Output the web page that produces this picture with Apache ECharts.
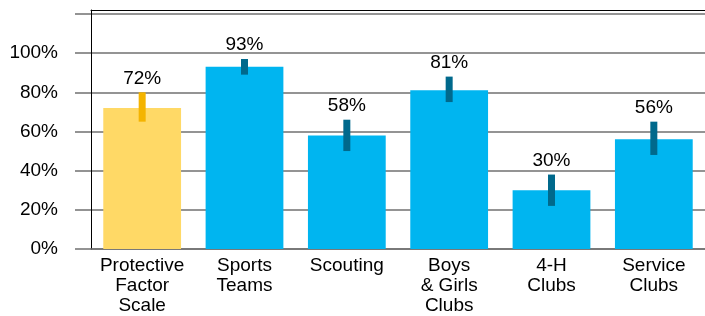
<!DOCTYPE html>
<html>
<head>
<meta charset="utf-8">
<script src="https://cdn.jsdelivr.net/npm/echarts@6/dist/echarts.min.js"></script>
<style>html,body{margin:0;padding:0;background:#fff}#c{width:705px;height:316px}</style>
</head>
<body>
<div id="c"></div>
<script>
var categories = ['Protective\nFactor\nScale', 'Sports\nTeams', 'Scouting', 'Boys\n& Girls\nClubs', '4-H\nClubs', 'Service\nClubs'];
var values = [72, 93, 58, 81, 30, 56];
var errLow = [65, 89, 50, 75, 22, 48];
var errHigh = [80, 97, 66, 88, 38, 65];
var yTicks = [0, 20, 40, 60, 80, 100];
var gridTicks = [0, 20, 40, 60, 80, 100, 120];

var barColors = ['#FFD966', '#00B5F0', '#00B5F0', '#00B5F0', '#00B5F0', '#00B5F0'];
var errColors = ['#F4B400', '#00698C', '#00698C', '#00698C', '#00698C', '#00698C'];
var font = 'Liberation Sans, Arial, sans-serif';

var chart = echarts.init(document.getElementById('c'));
chart.setOption({
  animation: false,
  grid: {left: 91, right: 0, top: 10, bottom: 66},
  xAxis: [{
    type: 'category', data: categories,
    axisLine: {lineStyle: {color: '#707070', width: 1.5}},
    axisTick: {show: false},
    axisLabel: {color: '#000', fontFamily: font, fontSize: 19, lineHeight: 20, margin: 7, interval: 0}
  }, {
    type: 'category', data: categories, position: 'top',
    axisLine: {show: true, lineStyle: {color: '#000', width: 1}},
    axisTick: {show: false}, axisLabel: {show: false}
  }],
  yAxis: {
    type: 'value', min: 0, max: 122, interval: 20,
    axisLine: {show: true, lineStyle: {color: '#000', width: 1}},
    axisTick: {show: true, length: 16, customValues: gridTicks, lineStyle: {color: '#707070', width: 1.5}},
    splitLine: {lineStyle: {color: '#707070', width: 1.5}},
    axisLabel: {
      color: '#000', fontFamily: font, fontSize: 19, margin: 33, customValues: yTicks,
      formatter: function (v) { return v + '%'; }
    }
  },
  series: [{
    type: 'bar', barWidth: '76%',
    data: values.map(function (v, i) { return {value: v, itemStyle: {color: barColors[i]}}; })
  }, {
    type: 'custom', z: 5,
    data: values.map(function (v, i) { return [i, errLow[i], errHigh[i], v]; }),
    renderItem: function (params, api) {
      var i = api.value(0);
      var lo = api.coord([i, api.value(1)]);
      var hi = api.coord([i, api.value(2)]);
      return {
        type: 'group',
        children: [{
          type: 'rect',
          shape: {x: lo[0] - 3.5, y: hi[1], width: 7, height: lo[1] - hi[1]},
          style: {fill: errColors[i]}
        }, {
          type: 'text',
          style: {
            text: api.value(3) + '%', x: hi[0], y: hi[1] - 14,
            align: 'center', verticalAlign: 'middle',
            fill: '#000', font: '19px ' + font
          }
        }]
      };
    }
  }]
});
</script>
</body>
</html>
